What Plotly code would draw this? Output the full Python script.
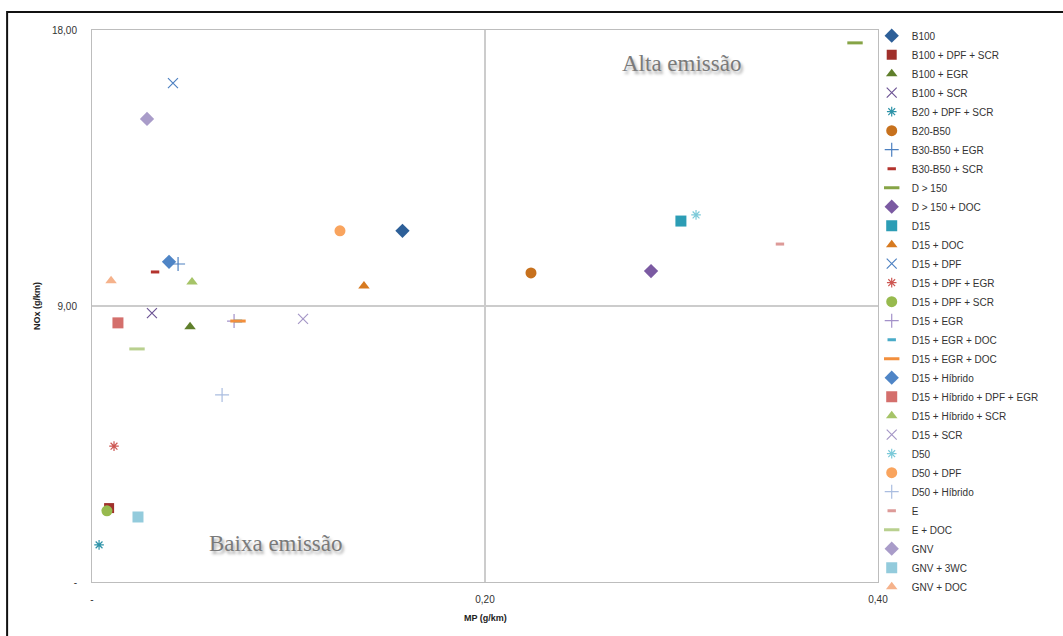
import plotly.graph_objects as go

# ---- data (MP g/km, NOx g/km) ----
series_names = [
    "B100", "B100 + DPF + SCR", "B100 + EGR", "B100 + SCR", "B20 + DPF + SCR",
    "B20-B50", "B30-B50 + EGR", "B30-B50 + SCR", "D > 150", "D > 150 + DOC",
    "D15", "D15 + DOC", "D15 + DPF", "D15 + DPF + EGR", "D15 + DPF + SCR",
    "D15 + EGR", "D15 + EGR + DOC", "D15 + EGR + DOC", "D15 + Híbrido",
    "D15 + Híbrido + DPF + EGR", "D15 + Híbrido + SCR", "D15 + SCR", "D50",
    "D50 + DPF", "D50 + Híbrido", "E", "E + DOC", "GNV", "GNV + 3WC", "GNV + DOC",
]
mp_values = [
    0.158, 0.0087, 0.0499, 0.0305, 0.0036,
    0.2234, 0.0438, 0.0321, 0.3883, 0.2845,
    0.2997, 0.1384, 0.0412, 0.0112, 0.0076,
    0.0723, 0.0743, 0.0743, 0.0392,
    0.0132, 0.0509, 0.1074, 0.3074,
    0.1262, 0.0662, 0.3501, 0.0229, 0.0280, 0.0234, 0.0097,
]
nox_values = [
    11.45, 2.41, 8.32, 8.77, 1.21,
    10.08, 10.37, 10.11, 17.58, 10.14,
    11.77, 9.65, 16.27, 4.43, 2.32,
    8.51, 8.51, 8.51, 10.44,
    8.45, 9.78, 8.58, 11.97,
    11.45, 6.10, 11.02, 7.60, 15.10, 2.12, 9.82,
]

x_tickvals = [0, 0.2, 0.4]
x_ticktext = ["-", "0,20", "0,40"]
y_tickvals = [0, 9, 18]
y_ticktext = ["-", "9,00", "18,00"]

# ---- styles: (symbol, color, size, line width) ----
styles = [
    ("diamond", "#2d5f98", 11, 0),
    ("square", "#a0302b", 10, 0),
    ("triangle-up", "#5f7f2b", 10, 0),
    ("x-thin-open", "#6d5595", 10, 1.2),
    ("asterisk-open", "#2e93a8", 8, 1.2),
    ("circle", "#c7711d", 11, 0),
    ("cross-thin-open", "#4d80c0", 10, 1.2),
    ("line-ew-open", "#b3332d", 6, 3),
    ("line-ew-open", "#86a446", 11, 3),
    ("diamond", "#7b5aa2", 11, 0),
    ("square", "#2c9db5", 11, 0),
    ("triangle-up", "#d77a20", 10, 0),
    ("x-thin-open", "#4f82c2", 10, 1.2),
    ("asterisk-open", "#cd5752", 8, 1.2),
    ("circle", "#97ba4e", 11, 0),
    ("cross-thin-open", "#a391c9", 10, 1.2),
    ("line-ew-open", "#49abc8", 6, 3),
    ("line-ew-open", "#f28f3d", 11, 3),
    ("diamond", "#4f85c6", 11, 0),
    ("square", "#d46f6c", 11, 0),
    ("triangle-up", "#a6c468", 10, 0),
    ("x-thin-open", "#a597c7", 10, 1.2),
    ("asterisk-open", "#7ccad9", 8, 1.2),
    ("circle", "#f9a45e", 11, 0),
    ("cross-thin-open", "#aabde0", 10, 1.2),
    ("line-ew-open", "#dd9a98", 6, 3),
    ("line-ew-open", "#b9d08f", 11, 3),
    ("diamond", "#a99cc9", 11, 0),
    ("square", "#93cbdc", 11, 0),
    ("triangle-up", "#f5b28b", 10, 0),
]

fig = go.Figure()
for i, name in enumerate(series_names):
    sym, col, size, lw = styles[i]
    marker = dict(symbol=sym, color=col, size=size)
    if lw:
        marker["line"] = dict(color=col, width=lw)
    else:
        marker["line"] = dict(width=0)
    fig.add_trace(go.Scatter(
        x=[mp_values[i]], y=[nox_values[i]], mode="markers", name=name,
        marker=marker,
    ))

# outer frame
fig.add_shape(type="rect", xref="paper", yref="paper",
              x0=-0.108, x1=1.3, y0=-0.3, y1=1.0326,
              line=dict(color="#111111", width=2), layer="below")

shadow_font = dict(family="Liberation Serif", size=23, color="#7a7a7a",
                   shadow="2px 3px 3px rgba(0,0,0,0.35)")
fig.add_annotation(text="Alta emissão", x=0.3, y=16.9, xref="x", yref="y",
                   showarrow=False, font=shadow_font)
fig.add_annotation(text="Baixa emissão", x=0.0935, y=1.25, xref="x", yref="y",
                   showarrow=False, font=shadow_font)

# axis titles
fig.add_annotation(text="<b>NOx (g/km)</b>", x=-0.070, y=0.5, xref="paper", yref="paper",
                   xanchor="center", yanchor="middle",
                   textangle=-90, showarrow=False, font=dict(size=9, color="#222222"))
fig.add_annotation(text="<b>MP (g/km)</b>", x=0.5, y=-0.0652, xref="paper", yref="paper",
                   xanchor="center", yanchor="middle",
                   showarrow=False, font=dict(size=9, color="#222222"))

fig.update_layout(
    width=1063, height=636,
    margin=dict(l=92, r=185, t=30, b=54, autoexpand=False),
    paper_bgcolor="white", plot_bgcolor="white",
    font=dict(family="Liberation Sans", size=10, color="#333333"),
    showlegend=True,
    legend=dict(x=0.992, y=1.016, xanchor="left", yanchor="top",
                font=dict(size=10, color="#333333"), maxheight=1,
                tracegroupgap=0, itemwidth=30, bgcolor="rgba(0,0,0,0)"),
    xaxis=dict(range=[0, 0.4], tickvals=x_tickvals, ticktext=x_ticktext,
               showgrid=True, gridcolor="#cccccc", gridwidth=2, zeroline=False,
               showline=True, linecolor="#bdbdbd", linewidth=1, mirror=True,
               ticks="", ticklabelstandoff=8, automargin=False),
    yaxis=dict(range=[0, 18], tickvals=y_tickvals, ticktext=y_ticktext,
               showgrid=True, gridcolor="#cccccc", gridwidth=2, zeroline=False,
               showline=True, linecolor="#bdbdbd", linewidth=1, mirror=True,
               ticks="", ticklabelstandoff=12, automargin=False),
)

fig.write_html("out.html", config={"displayModeBar": False},
               post_script="document.body.style.margin='0';document.body.style.overflow='hidden';")
